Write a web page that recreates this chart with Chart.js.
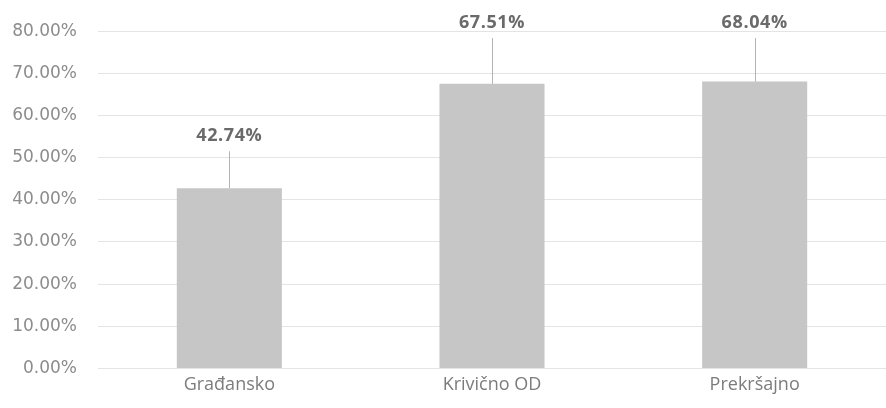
<!DOCTYPE html>
<html><head><meta charset="utf-8">
<script src="https://cdn.jsdelivr.net/npm/chart.js@4"></script>
<style>html,body{margin:0;padding:0;background:#fff}#wrap{width:886px;height:408px}</style>
</head><body><div id="wrap"><canvas id="c"></canvas></div>
<script>
const categories = ["Građansko", "Krivično OD", "Prekršajno"];
const values = [42.74, 67.51, 68.04];
const yTicks = [0, 10, 20, 30, 40, 50, 60, 70, 80];

const labelPlugin = {
  id: 'valLabels',
  afterDatasetsDraw(chart) {
    const ctx = chart.ctx;
    const meta = chart.getDatasetMeta(0);
    ctx.save();
    ctx.letterSpacing = '0.6px';
    ctx.font = 'bold 18px "Open Sans", sans-serif';
    ctx.fillStyle = '#6a6a6a';
    ctx.textAlign = 'center';
    ctx.textBaseline = 'middle';
    meta.data.forEach((bar, i) => {
      let ly = bar.y - 52;
      if (ly < 40) ly = 23;
      ctx.fillText(values[i].toFixed(2) + '%', bar.x, ly);
      ctx.strokeStyle = '#b4b4b4';
      ctx.lineWidth = 1;
      ctx.beginPath();
      ctx.moveTo(Math.round(bar.x) + 0.5, ly + 15);
      ctx.lineTo(Math.round(bar.x) + 0.5, bar.y);
      ctx.stroke();
    });
    ctx.restore();
  }
};

new Chart(document.getElementById('c'), {
  type: 'bar',
  data: {
    labels: categories,
    datasets: [{
      data: values,
      backgroundColor: '#c6c6c6',
      borderWidth: 0,
      barPercentage: 0.4,
      categoryPercentage: 1.0
    }]
  },
  options: {
    responsive: true,
    maintainAspectRatio: false,
    animation: false,
    layout: { padding: { top: 24, right: 0, left: 8, bottom: 6 } },
    plugins: { legend: { display: false }, tooltip: { enabled: false } },
    scales: {
      x: {
        grid: { display: false, drawTicks: false },
        border: { display: false },
        ticks: { color: '#7c7c7c', font: { family: '"Open Sans", sans-serif', size: 18 }, padding: 6 }
      },
      y: {
        min: 0, max: 80,
        afterBuildTicks(axis) { axis.ticks = yTicks.map(v => ({ value: v })); },
        afterFit(axis) { axis.width = 90; },
        grid: { color: '#e4e4e4', drawTicks: false },
        border: { display: false },
        ticks: {
          color: '#8c8c8c',
          font: { family: '"DejaVu Sans", sans-serif', size: 17 },
          padding: 21,
          callback: v => v.toFixed(2) + '%'
        }
      }
    }
  },
  plugins: [labelPlugin]
});
</script></body></html>
